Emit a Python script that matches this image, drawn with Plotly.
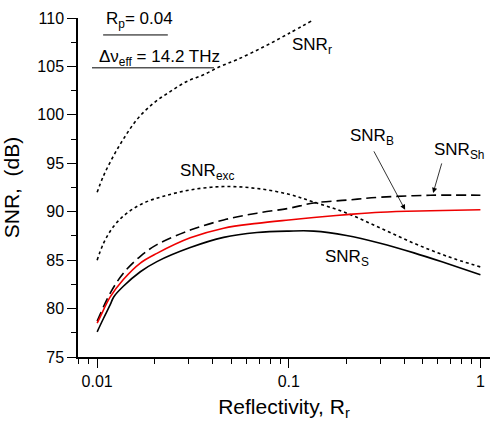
import plotly.graph_objects as go

# ---------------- data ----------------
r_snr_r = [0.01, 0.01079, 0.01216, 0.01371, 0.0161, 0.01968, 0.02404, 0.02938, 0.03589, 0.04385, 0.0537, 0.0736, 0.1, 0.1343]
snr_r = [92.0, 93.7, 95.75, 97.5, 99.5, 101.2, 102.4, 103.45, 104.14, 105.0, 105.7, 107.0, 108.4, 109.8]

r_exc = [0.01, 0.0108, 0.0122, 0.0143, 0.0175, 0.0222, 0.0306, 0.0457, 0.0682, 0.1, 0.135, 0.201, 0.301, 0.449, 0.67, 1.0]
snr_exc = [85.0, 86.75, 88.5, 89.85, 90.9, 91.6, 92.25, 92.6, 92.4, 91.8, 91.0, 89.85, 88.3, 86.75, 85.4, 84.3]

r_sh = [0.01, 0.0117, 0.0137, 0.0168, 0.0205, 0.0306, 0.0457, 0.0682, 0.1, 0.135, 0.201, 0.301, 0.548, 1.0]
snr_sh = [78.7, 81.6, 83.65, 85.4, 86.6, 88.1, 89.15, 89.85, 90.35, 90.9, 91.2, 91.5, 91.7, 91.7]

r_b = [0.01, 0.0104, 0.0117, 0.0137, 0.0168, 0.0205, 0.0306, 0.0457, 0.0682, 0.1, 0.135, 0.201, 0.301, 0.548, 1.0]
snr_b = [78.5, 79.2, 81.2, 83.0, 84.7, 85.7, 87.3, 88.3, 88.8, 89.15, 89.4, 89.7, 89.95, 90.1, 90.2]

r_s = [0.01, 0.0108, 0.0117, 0.0122, 0.0137, 0.0168, 0.0205, 0.0306, 0.0457, 0.0682, 0.1, 0.135, 0.2, 0.3, 0.45, 0.67, 1.0]
snr_s = [77.6, 79.0, 80.4, 81.2, 82.3, 83.8, 84.85, 86.3, 87.35, 87.85, 88.0, 88.0, 87.55, 86.75, 85.75, 84.65, 83.5]

x_tickvals = [0.01, 0.1, 1]
x_ticktext = ["0.01", "0.1", "1"]
x_minor = [0.008, 0.009, 0.02, 0.03, 0.04, 0.05, 0.06, 0.07, 0.08, 0.09,
           0.2, 0.3, 0.4, 0.5, 0.6, 0.7, 0.8, 0.9]
y_tickvals = [75, 80, 85, 90, 95, 100, 105, 110]

FONT = "Liberation Sans, Arial, sans-serif"

fig = go.Figure()
fig.add_trace(go.Scatter(x=r_snr_r, y=snr_r, mode="lines", line_shape="spline",
                         line=dict(color="black", width=1.6, dash="3px,3px")))
fig.add_trace(go.Scatter(x=r_exc, y=snr_exc, mode="lines", line_shape="spline",
                         line=dict(color="black", width=1.6, dash="3px,3px")))
fig.add_trace(go.Scatter(x=r_sh, y=snr_sh, mode="lines", line_shape="spline",
                         line=dict(color="black", width=1.6, dash="10px,5px")))
fig.add_trace(go.Scatter(x=r_s, y=snr_s, mode="lines", line_shape="spline",
                         line=dict(color="black", width=1.6)))
fig.add_trace(go.Scatter(x=r_b, y=snr_b, mode="lines", line_shape="spline",
                         line=dict(color="#ee0000", width=1.6)))

labels = [
    ("R<sub>p</sub>= 0.04", 0.063, 0.994, "left"),
    ("Δν<sub>eff</sub> = 14.2 THz", 0.046, 0.882, "left"),
    ("SNR<sub>r</sub>", 0.515, 0.917, "left"),
    ("SNR<sub>exc</sub>", 0.243, 0.545, "left"),
    ("SNR<sub>B</sub>", 0.655, 0.649, "left"),
    ("SNR<sub>Sh</sub>", 0.859, 0.608, "left"),
    ("SNR<sub>S</sub>", 0.595, 0.292, "left"),
]
annotations = []
for txt, x, y, anc in labels:
    annotations.append(dict(text=txt, x=x, y=y, xref="paper", yref="paper",
                            xanchor=anc, yanchor="middle", showarrow=False,
                            font=dict(family=FONT, size=17, color="black")))
# arrows
annotations.append(dict(text="", x=0.794, y=0.434, xref="paper", yref="paper",
                        ax=-32, ay=-60, showarrow=True, arrowhead=2, arrowsize=1.3,
                        arrowwidth=0.8, arrowcolor="black"))
annotations.append(dict(text="", x=0.862, y=0.484, xref="paper", yref="paper",
                        ax=9, ay=-31, showarrow=True, arrowhead=2, arrowsize=1.3,
                        arrowwidth=0.8, arrowcolor="black"))

shapes = [
    dict(type="line", xref="paper", yref="paper", x0=0.061, x1=0.218, y0=0.950, y1=0.950,
         line=dict(color="black", width=1)),
    dict(type="line", xref="paper", yref="paper", x0=0.034, x1=0.330, y0=0.853, y1=0.853,
         line=dict(color="black", width=1)),
]

fig.update_layout(
    width=492, height=421,
    margin=dict(l=78, r=2, t=18, b=64),
    paper_bgcolor="white", plot_bgcolor="white",
    showlegend=False,
    font=dict(family=FONT, color="black"),
    annotations=annotations,
    shapes=shapes,
    xaxis=dict(type="log", range=[-2.1, 0.05], showgrid=False, zeroline=False,
               showline=True, linecolor="black", linewidth=1.5,
               ticks="outside", ticklen=9, tickwidth=1.3, tickcolor="black",
               tickvals=x_tickvals, ticktext=x_ticktext,
               tickfont=dict(size=16, family=FONT),
               minor=dict(tickvals=x_minor, ticks="outside", ticklen=5,
                          tickwidth=1.1, tickcolor="black", showgrid=False),
               title=dict(text="Reflectivity, R<sub>r</sub>", font=dict(size=21, family=FONT),
                          standoff=14)),
    yaxis=dict(range=[75, 110], showgrid=False, zeroline=False,
               showline=True, linecolor="black", linewidth=1.5,
               ticks="outside", ticklen=9, tickwidth=1.3, tickcolor="black",
               tickvals=y_tickvals, tickfont=dict(size=16, family=FONT),
               minor=dict(dtick=2.5, ticks="outside", ticklen=5, tickwidth=1.1,
                          tickcolor="black", showgrid=False),
               title=dict(text="SNR,  (dB)", font=dict(size=21, family=FONT), standoff=12)),
)

fig.write_html("out.html")
